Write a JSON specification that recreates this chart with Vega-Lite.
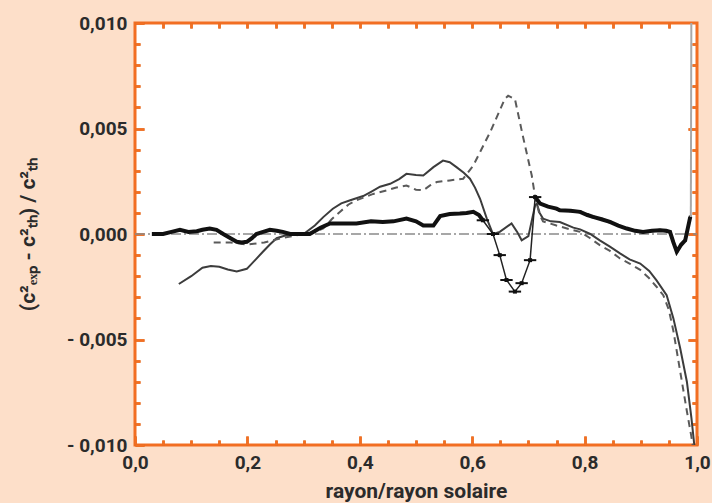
{
  "$schema": "https://vega.github.io/schema/vega-lite/v6.json",
  "width": 562,
  "height": 422,
  "autosize": {"type": "none"},
  "padding": {"left": 135, "top": 23, "right": 15, "bottom": 58},
  "background": "#fddfc9",
  "config": {
    "view": {"fill": "white", "stroke": "#f26e22", "strokeWidth": 3},
    "axis": {
      "domain": false, "grid": false,
      "labelFont": "Roboto", "labelFontWeight": "bold", "labelFontSize": 19, "labelColor": "#2b2b2b",
      "titleFont": "Roboto", "titleFontWeight": "bold", "titleColor": "#2b2b2b",
      "labelFlush": false, "labelOverlap": false, "labelBound": false
    }
  },
  "datasets": {
    "zero": [{"x": 0, "y": 0}, {"x": 1, "y": 0}],
    "solid": [
      {"x":0.078,"y":-0.00237},{"x":0.10,"y":-0.0020},{"x":0.12,"y":-0.0016},{"x":0.135,"y":-0.00152},{"x":0.15,"y":-0.00155},{"x":0.165,"y":-0.00168},{"x":0.181,"y":-0.00178},{"x":0.199,"y":-0.00165},{"x":0.215,"y":-0.0012},{"x":0.228,"y":-0.00083},{"x":0.24,"y":-0.0005},{"x":0.252,"y":-0.0002},{"x":0.27,"y":-0.00005},{"x":0.30,"y":0.0},{"x":0.32,"y":0.0004},{"x":0.335,"y":0.0008},{"x":0.352,"y":0.0012},{"x":0.367,"y":0.00145},{"x":0.383,"y":0.0016},{"x":0.406,"y":0.0018},{"x":0.42,"y":0.0020},{"x":0.436,"y":0.00224},{"x":0.454,"y":0.00238},{"x":0.47,"y":0.0026},{"x":0.483,"y":0.00285},{"x":0.50,"y":0.0028},{"x":0.513,"y":0.00277},{"x":0.531,"y":0.00317},{"x":0.548,"y":0.00348},{"x":0.56,"y":0.0034},{"x":0.572,"y":0.00317},{"x":0.585,"y":0.0029},{"x":0.596,"y":0.00262},{"x":0.605,"y":0.0022},{"x":0.614,"y":0.00167},{"x":0.626,"y":0.00073},{"x":0.637,"y":0.0},{"x":0.649,"y":0.0001},{"x":0.670,"y":0.0005},{"x":0.680,"y":0.0001},{"x":0.688,"y":-0.0003},{"x":0.700,"y":-0.0001},{"x":0.712,"y":0.00136},{"x":0.715,"y":0.00144},{"x":0.72,"y":0.0010},{"x":0.726,"y":0.00073},{"x":0.74,"y":0.0006},{"x":0.756,"y":0.00057},{"x":0.78,"y":0.0003},{"x":0.792,"y":0.00022},{"x":0.81,"y":0.0},{"x":0.827,"y":-0.0003},{"x":0.845,"y":-0.0006},{"x":0.863,"y":-0.00092},{"x":0.88,"y":-0.0012},{"x":0.899,"y":-0.0014},{"x":0.915,"y":-0.00175},{"x":0.928,"y":-0.0022},{"x":0.946,"y":-0.0029},{"x":0.958,"y":-0.004},{"x":0.970,"y":-0.0054},{"x":0.982,"y":-0.007},{"x":0.990,"y":-0.0087},{"x":0.996,"y":-0.0102}
    ],
    "dashed": [
      {"x":0.14,"y":-0.0004},{"x":0.17,"y":-0.0004},{"x":0.20,"y":-0.0005},{"x":0.23,"y":-0.0004},{"x":0.26,"y":-0.0002},{"x":0.30,"y":0.0},{"x":0.32,"y":0.0001},{"x":0.335,"y":0.00026},{"x":0.35,"y":0.0007},{"x":0.365,"y":0.00106},{"x":0.38,"y":0.0014},{"x":0.394,"y":0.0016},{"x":0.424,"y":0.0019},{"x":0.448,"y":0.00207},{"x":0.465,"y":0.0022},{"x":0.483,"y":0.0023},{"x":0.50,"y":0.0021},{"x":0.513,"y":0.00207},{"x":0.525,"y":0.0023},{"x":0.537,"y":0.00246},{"x":0.560,"y":0.00254},{"x":0.584,"y":0.00262},{"x":0.602,"y":0.00325},{"x":0.632,"y":0.00483},{"x":0.658,"y":0.0064},{"x":0.664,"y":0.00655},{"x":0.676,"y":0.0064},{"x":0.690,"y":0.00466},{"x":0.706,"y":0.00277},{"x":0.712,"y":0.00175},{"x":0.72,"y":0.0009},{"x":0.726,"y":0.0006},{"x":0.75,"y":0.0004},{"x":0.78,"y":0.00018},{"x":0.792,"y":0.0001},{"x":0.81,"y":-0.0002},{"x":0.827,"y":-0.00053},{"x":0.845,"y":-0.0008},{"x":0.863,"y":-0.00116},{"x":0.88,"y":-0.0014},{"x":0.899,"y":-0.0017},{"x":0.915,"y":-0.0021},{"x":0.928,"y":-0.0025},{"x":0.940,"y":-0.0029},{"x":0.950,"y":-0.0036},{"x":0.958,"y":-0.0046},{"x":0.970,"y":-0.0065},{"x":0.982,"y":-0.0084},{"x":0.990,"y":-0.0096},{"x":0.994,"y":-0.0103}
    ],
    "obs1": [
      {"x":0.03,"y":0.0},{"x":0.05,"y":0.0},{"x":0.065,"y":0.0001},{"x":0.08,"y":0.0002},{"x":0.095,"y":0.0001},{"x":0.11,"y":0.00013},{"x":0.12,"y":0.0002},{"x":0.133,"y":0.00026},{"x":0.145,"y":0.0002},{"x":0.157,"y":0.0},{"x":0.17,"y":-0.0002},{"x":0.181,"y":-0.00037},{"x":0.19,"y":-0.0004},{"x":0.199,"y":-0.00037},{"x":0.208,"y":-0.0002},{"x":0.216,"y":0.0},{"x":0.228,"y":0.0001},{"x":0.24,"y":0.0002},{"x":0.252,"y":0.00015},{"x":0.263,"y":0.0001},{"x":0.276,"y":0.0},{"x":0.29,"y":0.0},{"x":0.30,"y":0.0},{"x":0.311,"y":0.0},{"x":0.33,"y":0.0003},{"x":0.347,"y":0.0005},{"x":0.37,"y":0.0005},{"x":0.394,"y":0.0005},{"x":0.42,"y":0.0006},{"x":0.441,"y":0.00057},{"x":0.46,"y":0.0006},{"x":0.483,"y":0.00073},{"x":0.50,"y":0.0006},{"x":0.513,"y":0.0004},{"x":0.531,"y":0.0004},{"x":0.543,"y":0.00085},{"x":0.56,"y":0.00095},{"x":0.578,"y":0.00097},{"x":0.59,"y":0.001},{"x":0.602,"y":0.00105},{"x":0.612,"y":0.0009},{"x":0.619,"y":0.00065}
    ],
    "obs2": [
      {"x":0.712,"y":0.00175},{"x":0.721,"y":0.00144},{"x":0.735,"y":0.0013},{"x":0.750,"y":0.0012},{"x":0.756,"y":0.00112},{"x":0.775,"y":0.0011},{"x":0.792,"y":0.00105},{"x":0.805,"y":0.0009},{"x":0.815,"y":0.00081},{"x":0.83,"y":0.0007},{"x":0.845,"y":0.00057},{"x":0.86,"y":0.0004},{"x":0.875,"y":0.00026},{"x":0.89,"y":0.00015},{"x":0.904,"y":0.0001},{"x":0.92,"y":0.00015},{"x":0.934,"y":0.00018},{"x":0.945,"y":0.00015},{"x":0.952,"y":0.0001},{"x":0.958,"y":-0.0004},{"x":0.964,"y":-0.00084},{"x":0.972,"y":-0.0005},{"x":0.979,"y":-0.0003},{"x":0.988,"y":0.00081}
    ],
    "dip": [
      {"x":0.619,"xlo":0.608,"xhi":0.630,"y":0.00065},{"x":0.637,"xlo":0.626,"xhi":0.648,"y":0.0},{"x":0.649,"xlo":0.638,"xhi":0.660,"y":-0.001},{"x":0.661,"xlo":0.650,"xhi":0.672,"y":-0.00218},{"x":0.676,"xlo":0.665,"xhi":0.687,"y":-0.00273},{"x":0.688,"xlo":0.677,"xhi":0.699,"y":-0.00233},{"x":0.703,"xlo":0.692,"xhi":0.714,"y":-0.00124},{"x":0.712,"xlo":0.701,"xhi":0.723,"y":0.00175}
    ],
    "edge": [{"x":0.989,"y":0.0008},{"x":0.99,"y":0.0108}]
  },
  "resolve": {"axis": {"x": "independent", "y": "independent"}},
  "layer": [
    {
      "data": {"name": "zero"},
      "mark": {"type": "line", "color": "#8a8a8a", "strokeWidth": 1.5, "strokeDash": [10, 3, 2, 3]},
      "encoding": {
        "x": {"field": "x", "type": "quantitative", "scale": {"domain": [0, 1], "nice": false, "zero": false},
          "axis": {"orient": "bottom", "values": [0, 0.2, 0.4, 0.6, 0.8, 1], "ticks": true, "tickColor": "chocolate", "tickWidth": 2.5, "tickSize": -9, "labelPadding": 17,
            "labelExpr": "replace(format(datum.value, '.1f'), '.', ',')",
            "title": "rayon/rayon solaire", "titleFontSize": 21, "titlePadding": 8}},
        "y": {"field": "y", "type": "quantitative", "scale": {"domain": [-0.01, 0.01], "nice": false, "zero": false},
          "axis": {"orient": "left", "values": [-0.01, -0.005, 0, 0.005, 0.01], "ticks": true, "tickColor": "chocolate", "tickWidth": 2.5, "tickSize": -9, "labelPadding": 17,
            "labelExpr": "datum.value < -0.0000001 ? '- ' + replace(format(abs(datum.value), '.3f'), '.', ',') : replace(format(abs(datum.value), '.3f'), '.', ',')",
            "title": "(c²ₑₓₚ - c²ₜₕ) / c²ₜₕ", "titleFontSize": 21, "titlePadding": 28}}
      }
    },
    {
      "data": {"name": "solid"},
      "mark": {"type": "line", "color": "#3c3c3c", "strokeWidth": 2, "clip": true},
      "encoding": {
        "x": {"field": "x", "type": "quantitative",
          "axis": {"orient": "bottom", "values": [0.05,0.1,0.15,0.25,0.3,0.35,0.45,0.5,0.55,0.65,0.7,0.75,0.85,0.9,0.95], "ticks": true, "tickColor": "chocolate", "tickWidth": 2.5, "tickSize": -5, "labels": false, "title": null}},
        "y": {"field": "y", "type": "quantitative",
          "axis": {"orient": "left", "values": [-0.009,-0.008,-0.007,-0.006,-0.004,-0.003,-0.002,-0.001,0.001,0.002,0.003,0.004,0.006,0.007,0.008,0.009], "ticks": true, "tickColor": "chocolate", "tickWidth": 2.5, "tickSize": -5, "labels": false, "title": null}}
      }
    },
    {
      "data": {"name": "dashed"},
      "mark": {"type": "line", "color": "#5a5a5a", "strokeWidth": 2, "strokeDash": [7, 5], "clip": true},
      "encoding": {
        "x": {"field": "x", "type": "quantitative",
          "axis": {"orient": "top", "values": [0.05,0.1,0.15,0.2,0.25,0.3,0.35,0.4,0.45,0.5,0.55,0.6,0.65,0.7,0.75,0.8,0.85,0.9,0.95], "ticks": true, "tickColor": "chocolate", "tickWidth": 2.5, "tickSize": -5, "labels": false, "title": null}},
        "y": {"field": "y", "type": "quantitative",
          "axis": {"orient": "right", "values": [-0.005, 0, 0.005], "ticks": true, "tickColor": "chocolate", "tickWidth": 2.5, "tickSize": 9, "offset": -9, "labels": false, "title": null}}
      }
    },
    {
      "data": {"name": "obs1"},
      "mark": {"type": "line", "color": "#111111", "strokeWidth": 4},
      "encoding": {
        "x": {"field": "x", "type": "quantitative", "axis": null},
        "y": {"field": "y", "type": "quantitative",
          "axis": {"orient": "right", "values": [-0.009,-0.008,-0.007,-0.006,-0.004,-0.003,-0.002,-0.001,0.001,0.002,0.003,0.004,0.006,0.007,0.008,0.009], "ticks": true, "tickColor": "chocolate", "tickWidth": 2.5, "tickSize": -5, "labels": false, "title": null}}
      }
    },
    {
      "data": {"name": "obs2"},
      "mark": {"type": "line", "color": "#111111", "strokeWidth": 4, "point": {"filled": true, "shape": "square", "size": 8, "color": "#111111"}},
      "encoding": {
        "x": {"field": "x", "type": "quantitative",
          "axis": {"orient": "bottom", "values": [0, 0.2, 0.4, 0.6, 0.8, 1], "ticks": true, "tickColor": "rgb(243,111,35)", "tickWidth": 2.5, "tickSize": -9, "labels": false, "title": null}},
        "y": {"field": "y", "type": "quantitative",
          "axis": {"orient": "left", "values": [-0.01, -0.005, 0, 0.005, 0.01], "ticks": true, "tickColor": "rgb(243,111,35)", "tickWidth": 2.5, "tickSize": -9, "labels": false, "title": null}}
      }
    },
    {
      "data": {"name": "dip"},
      "mark": {"type": "line", "color": "#222222", "strokeWidth": 1.5},
      "encoding": {
        "x": {"field": "x", "type": "quantitative",
          "axis": {"orient": "bottom", "values": [0.05,0.1,0.15,0.25,0.3,0.35,0.45,0.5,0.55,0.65,0.7,0.75,0.85,0.9,0.95], "ticks": true, "tickColor": "rgb(243,111,35)", "tickWidth": 2.5, "tickSize": -5, "labels": false, "title": null}},
        "y": {"field": "y", "type": "quantitative",
          "axis": {"orient": "left", "values": [-0.009,-0.008,-0.007,-0.006,-0.004,-0.003,-0.002,-0.001,0.001,0.002,0.003,0.004,0.006,0.007,0.008,0.009], "ticks": true, "tickColor": "rgb(243,111,35)", "tickWidth": 2.5, "tickSize": -5, "labels": false, "title": null}}
      }
    },
    {
      "data": {"name": "dip"},
      "mark": {"type": "rule", "color": "#111111", "strokeWidth": 2},
      "encoding": {
        "x": {"field": "xlo", "type": "quantitative",
          "axis": {"orient": "top", "values": [0.05,0.1,0.15,0.2,0.25,0.3,0.35,0.4,0.45,0.5,0.55,0.6,0.65,0.7,0.75,0.8,0.85,0.9,0.95], "ticks": true, "tickColor": "rgb(243,111,35)", "tickWidth": 2.5, "tickSize": -5, "labels": false, "title": null}},
        "x2": {"field": "xhi"},
        "y": {"field": "y", "type": "quantitative",
          "axis": {"orient": "right", "values": [-0.005, 0, 0.005], "ticks": true, "tickColor": "rgb(243,111,35)", "tickWidth": 2.5, "tickSize": 9, "offset": -9, "labels": false, "title": null}}
      }
    },
    {
      "data": {"name": "dip"},
      "mark": {"type": "point", "shape": "square", "filled": true, "color": "#111111", "size": 16, "opacity": 1},
      "encoding": {
        "x": {"field": "x", "type": "quantitative", "axis": null},
        "y": {"field": "y", "type": "quantitative",
          "axis": {"orient": "right", "values": [-0.009,-0.008,-0.007,-0.006,-0.004,-0.003,-0.002,-0.001,0.001,0.002,0.003,0.004,0.006,0.007,0.008,0.009], "ticks": true, "tickColor": "rgb(243,111,35)", "tickWidth": 2.5, "tickSize": -5, "labels": false, "title": null}}
      }
    },
    {
      "data": {"name": "edge"},
      "mark": {"type": "line", "color": "#a8a8a8", "strokeWidth": 2, "clip": true},
      "encoding": {
        "x": {"field": "x", "type": "quantitative", "axis": null},
        "y": {"field": "y", "type": "quantitative", "axis": null}
      }
    }
  ]
}
